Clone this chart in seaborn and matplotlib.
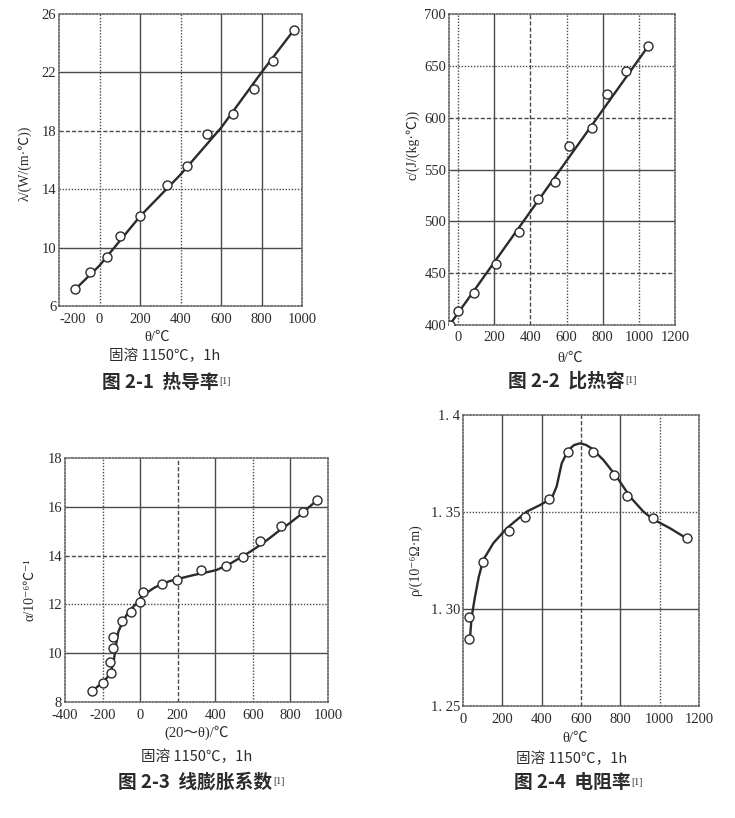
import matplotlib
matplotlib.use("Agg")
import matplotlib.pyplot as plt
from matplotlib.ticker import AutoMinorLocator
import seaborn as sns
import pandas as pd

# ---------------- data ----------------
# Fig 2-1 thermal conductivity
theta1_pts = [-123, -48, 38, 99, 199, 334, 433, 532, 658, 762, 856, 960]
lam1_pts = [7.15, 8.36, 9.39, 10.77, 12.19, 14.29, 15.58, 17.8, 19.13, 20.85, 22.77, 24.9]
theta1_curve = [-123, 0, 200, 400, 600, 800, 960]
lam1_curve = [7.1, 8.77, 12.14, 15.0, 18.2, 22.0, 24.9]
x1_ticks = [-200, 0, 200, 400, 600, 800, 1000]
x1_labels = ["-200", "0", "200", "400", "600", "800", "1000"]
y1_ticks = [6, 10, 14, 18, 22, 26]
y1_labels = ["6", "10", "14", "18", "22", "26"]

# Fig 2-2 specific heat
theta2_pts = [-47, 0, 87, 210, 338, 440, 539, 612, 742, 825, 930, 1052]
c2_pts = [400, 413.8, 431.2, 458.5, 490, 521.2, 538.3, 572.7, 590.4, 623.2, 645, 669]
theta2_curve = [-47, 1052]
c2_curve = [400, 669]
x2_ticks = [0, 200, 400, 600, 800, 1000, 1200]
x2_labels = ["0", "200", "400", "600", "800", "1000", "1200"]
y2_ticks = [400, 450, 500, 550, 600, 650, 700]
y2_labels = ["400", "450", "500", "550", "600", "650", "700"]

# Fig 2-3 linear expansion coefficient
theta3_pts = [-255, -199, -157, -160, -143, -143, -98, -49, -1, 17, 115, 198, 324, 455,
              546, 638, 748, 868, 943]
a3_pts = [8.45, 8.76, 9.17, 9.65, 10.2, 10.68, 11.33, 11.70, 12.11, 12.52, 12.82, 13.0,
          13.41, 13.57, 13.95, 14.6, 15.23, 15.77, 16.28]
theta3_curve = [-255, -196, -170, -151, -140, -134, -125, -116, -95, -72, -50, -27, -10, 8,
                40, 70, 110, 159, 220, 283, 345, 407, 475, 541, 590, 638, 690, 745, 800,
                851, 922, 943]
a3_curve = [8.45, 8.83, 9.05, 9.38, 9.7, 10.06, 10.5, 10.88, 11.25, 11.57, 11.8, 11.98,
            12.15, 12.32, 12.5, 12.66, 12.82, 12.96, 13.08, 13.2, 13.3, 13.41, 13.65,
            13.95, 14.18, 14.43, 14.72, 15.05, 15.35, 15.66, 16.14, 16.25]
x3_ticks = [-400, -200, 0, 200, 400, 600, 800, 1000]
x3_labels = ["-400", "-200", "0", "200", "400", "600", "800", "1000"]
y3_ticks = [8, 10, 12, 14, 16, 18]
y3_labels = ["8", "10", "12", "14", "16", "18"]

# Fig 2-4 electrical resistivity
theta4_pts = [32, 32, 100, 236, 317, 439, 535, 663, 768, 832, 965, 1137]
rho4_pts = [1.2844, 1.2960, 1.3244, 1.3404, 1.3476, 1.3565, 1.3811, 1.3811, 1.3691,
            1.3582, 1.3467, 1.3364]
theta4_curve = [32, 36, 44, 61, 80, 103, 154, 222, 324, 392, 451, 476, 502, 535, 565, 595,
                625, 654, 714, 781, 849, 917, 968, 1053, 1137]
rho4_curve = [1.2844, 1.2857, 1.2960, 1.3063, 1.3165, 1.3253, 1.3339, 1.3416, 1.3502,
              1.3536, 1.3571, 1.3631, 1.3751, 1.3820, 1.3845, 1.3854, 1.3846, 1.3828,
              1.3768, 1.3682, 1.3579, 1.3502, 1.3462, 1.3416, 1.3364]
x4_ticks = [0, 200, 400, 600, 800, 1000, 1200]
x4_labels = ["0", "200", "400", "600", "800", "1000", "1200"]
y4_ticks = [1.25, 1.30, 1.35, 1.40]
y4_labels = ["1. 25", "1. 30", "1. 35", "1. 4"]

# ---------------- style ----------------
sns.set_theme(style="white")
FAM = ["Liberation Serif", "Noto Sans CJK SC", "DejaVu Sans"]
CJK = ["Noto Sans CJK SC", "Liberation Serif", "DejaVu Sans"]
plt.rcParams["font.family"] = FAM
plt.rcParams["axes.unicode_minus"] = False

INK = "#2b2b2b"
GRID = "#4a4a4a"
SOLID = "-"
DOT = (0, (1, 1.2))
DASH = (0, (3, 1.5))

W, H = 735, 818
fig = plt.figure(figsize=(7.35, 8.18), dpi=100)
fig.patch.set_facecolor("white")


def px_axes(l, t, r, b):
    return fig.add_axes([l / W, 1 - b / H, (r - l) / W, (b - t) / H])


def ftext(x, y, s, **kw):
    return fig.text(x / W, 1 - y / H, s, ha="center", va="center", color=INK, **kw)


def panel(ax, xp, yp, xc, yc, xlim, ylim, xt, xl, yt, yl, xstyles, ystyles, xpad):
    df_c = pd.DataFrame({"x": xc, "y": yc})
    df_p = pd.DataFrame({"x": xp, "y": yp})
    for v, ls in zip(xt, xstyles):
        if ls is not None:
            ax.axvline(v, color=GRID, lw=1.0, ls=ls, zorder=0)
    for v, ls in zip(yt, ystyles):
        if ls is not None:
            ax.axhline(v, color=GRID, lw=1.0, ls=ls, zorder=0)
    sns.lineplot(data=df_c, x="x", y="y", sort=False, estimator=None, ax=ax,
                 color=INK, lw=1.7, zorder=3)
    sns.scatterplot(data=df_p, x="x", y="y", ax=ax, marker="o", s=42,
                    facecolor="white", edgecolor=INK, linewidth=1.0, zorder=4)
    ax.set_xlim(*xlim)
    ax.set_ylim(*ylim)
    ax.set_xticks(xt)
    ax.set_xticklabels(xl)
    ax.set_yticks(yt)
    ax.set_yticklabels(yl)
    ax.set_xlabel("")
    ax.set_ylabel("")
    ax.xaxis.set_minor_locator(AutoMinorLocator(4))
    ax.yaxis.set_minor_locator(AutoMinorLocator(4))
    ax.tick_params(which="major", direction="in", length=3, width=0.8, color=GRID,
                   labelsize=10.5, labelcolor=INK, pad=2)
    ax.tick_params(axis="x", which="major", pad=xpad)
    ax.tick_params(which="minor", direction="in", length=2, width=0.6, color=GRID)
    for sp in ax.spines.values():
        sp.set_visible(True)
        sp.set_color("#555555")
        sp.set_linewidth(1.1)
        sp.set_linestyle(DOT)
    for lab in ax.get_xticklabels() + ax.get_yticklabels():
        lab.set_family(FAM)


def caption(ax, x, y, s):
    t = ftext(x, y, s, fontsize=13.5, family=CJK, fontweight="bold")
    ax.annotate("[1]", xy=(1, 1), xycoords=t, xytext=(1, -3), textcoords="offset points",
                fontsize=7, color=INK, ha="left", va="top", annotation_clip=False)


# ---- Fig 2-1 ----
ax1 = px_axes(59, 14, 302, 306)
panel(ax1, theta1_pts, lam1_pts, theta1_curve, lam1_curve, (-200, 1000), (6, 26),
      x1_ticks, x1_labels, y1_ticks, y1_labels,
      [None, DOT, SOLID, DOT, SOLID, SOLID, None],
      [None, SOLID, DOT, DASH, SOLID, None], 5)
ax1.get_xticklabels()[0].set_horizontalalignment("left")
ftext(25, 163, "λ/(W/(m·℃))", fontsize=10, rotation=90, family=FAM)
ftext(157, 337, "θ/℃", fontsize=10.5, family=FAM)
ftext(165, 356, "固溶 1150℃，1h", fontsize=10.5, family=CJK)
caption(ax1, 160, 382, "图 2-1  热导率")

# ---- Fig 2-2 ----
ax2 = px_axes(449, 14, 675, 325)
panel(ax2, theta2_pts, c2_pts, theta2_curve, c2_curve, (-50, 1200), (400, 700),
      x2_ticks, x2_labels, y2_ticks, y2_labels,
      [DOT, SOLID, DASH, DOT, SOLID, DOT, None],
      [None, DASH, SOLID, SOLID, DASH, DOT, None], 4)
ftext(413, 145, "c/(J/(kg·℃))", fontsize=10, rotation=90, family=FAM)
ftext(570, 358, "θ/℃", fontsize=10.5, family=FAM)
caption(ax2, 566, 381, "图 2-2  比热容")

# ---- Fig 2-3 ----
ax3 = px_axes(65, 458, 328, 702)
panel(ax3, theta3_pts, a3_pts, theta3_curve, a3_curve, (-400, 1000), (8, 18),
      x3_ticks, x3_labels, y3_ticks, y3_labels,
      [None, DOT, SOLID, DASH, SOLID, DOT, SOLID, None],
      [None, SOLID, DOT, DASH, SOLID, None], 5)
ftext(30, 590, "α/10⁻⁶℃⁻¹", fontsize=10, rotation=90, family=FAM)
ftext(197, 733, "(20～θ)/℃", fontsize=10.5, family=FAM)
ftext(197, 757, "固溶 1150℃，1h", fontsize=10.5, family=CJK)
caption(ax3, 195, 782, "图 2-3  线膨胀系数")

# ---- Fig 2-4 ----
ax4 = px_axes(463, 415, 699, 706)
panel(ax4, theta4_pts, rho4_pts, theta4_curve, rho4_curve, (0, 1200), (1.25, 1.40),
      x4_ticks, x4_labels, y4_ticks, y4_labels,
      [None, SOLID, SOLID, DASH, SOLID, DOT, None],
      [None, SOLID, DOT, None], 5)
ftext(415, 560, "ρ/(10⁻⁶Ω·m)", fontsize=10, rotation=90, family=FAM)
ftext(575, 738, "θ/℃", fontsize=10.5, family=FAM)
ftext(572, 759, "固溶 1150℃，1h", fontsize=10.5, family=CJK)
caption(ax4, 572, 783, "图 2-4  电阻率")

fig.savefig("out.png", dpi=100, facecolor="white")
